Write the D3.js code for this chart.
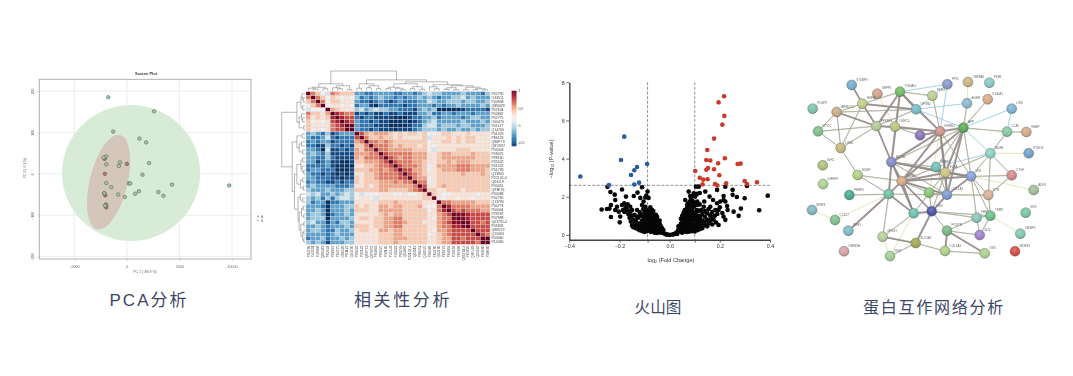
<!DOCTYPE html>
<html lang="zh"><head><meta charset="utf-8">
<script src="https://cdn.jsdelivr.net/npm/d3@7/dist/d3.min.js"></script>
<style>
html,body{margin:0;padding:0;background:#fff;overflow:hidden}
svg{display:block}
text{font-family:"Liberation Sans",Arial,sans-serif}
.soft{filter:blur(.38px)}
.caption{font-family:"Liberation Sans","Noto Sans CJK SC",sans-serif;font-weight:400;fill:#3b4668}
</style></head><body>
<svg id="c" width="1073" height="376"></svg>
<script>
// ---------- PCA ----------
const pcaGreen=[[-1770,185],[2590,151],[-1296,102],[1200,85],[1833,76],[-1960,42],[-2212,39],[-664,28],[-1960,23],[-758,19],[2117,26],[1485,-2],[-1960,-22],[-1485,-32],[190,-23],[316,-23],[-822,-50],[-190,-56],[790,-48],[1138,-42],[3002,-44],[3476,-53],[4298,-26],[9733,-28],[-2149,-47],[-1991,-75],[-2086,-77]];
const pcaRed=[[-2117,36],[0,24],[-2086,0],[-2149,-47],[-2054,-52],[-1960,-81],[-1991,-74]];
const pcaXTicks=[-5000,0,5000,10000];
const pcaYTicks=[200,100,0,-100,-200];
// ellipses: centre, semi-axes in data units, tilt in degrees
const pcaEllipseB={cx:400,cy:2,rx:6570,ry:164,tilt:0};
const pcaEllipseA={cx:-1740,cy:-20,rx:1800,ry:117,tilt:13.7};
const pcaLegend=["A","B"];

// ---------- Heat map ----------
const proteins=["P02790","O43511","P40908","Q8N4Z9","P02634","P00867","P02775","O00470","P01127","Q14760","P01023","P86123","Q86PY3","Q8Y6R7","P04003","P08475","P98160","P35542","P41222","P01769","Q13905","P22142-4","Q04119","P00451","Q93E76","P00488","P02760","Q13790","P00774","P04004","P29592","P07998","Q01791-4","P05826","Q86V29","Q15063","P04060","P10060"];
// upper triangle of the correlation matrix, in tenths, one row per protein
const corrRows=[
[10,5,3,1,0,5,4,3,3,3, -2,-2,-3,-3,-2, -2,-2,-2,-3,-3, -2,-2,-3,-2,-1, 0,-1,-1,-2,-2, -2,-2,-1,-2,-2, -2,-3,-1],
[10,5,3,1,3,2,1,2,1, -1,-3,-2,-3,-2, -1,-2,-2,-3,-2, -3,-2,-2,-1,-2, -1,-2,-3,-2,-2, -1,-1,0,-2,-1, -2,-2,-2],
[10,5,1,3,3,2,2,2, -2,-3,-3,-4,-3, -2,-3,-4,-3,-2, -3,-3,-3,-2,-2, 0,-1,-2,-2,-1, -1,-1,-2,-1,-1, -2,-2,-1],
[10,1,2,2,1,2,1, -3,-2,-2,-4,-5, -3,-3,-3,-3,-3, -4,-3,-3,-2,-2, -2,-3,-2,-3,-2, -2,-1,-2,-2,-2, -2,-1,-2],
[10,4,3,2,2,2, -1,0,-2,-1,0, -1,-1,-2,-2,-3, -3,-3,-4,-2,-1, -2,-1,-5,-5,-5, -5,-5,-4,-3,-3, -3,-3,-4],
[10,7,6,5,5, -4,-3,-4,-3,-4, -4,-3,-4,-4,-3, -4,-4,-4,-2,-2, -1,-3,-3,-2,-2, -3,-2,-2,-2,-3, -2,-2,-2],
[10,7,6,6, -3,-4,-3,-3,-4, -4,-4,-4,-5,-5, -5,-4,-3,-3,-2, -2,-1,-3,-2,-2, -2,-2,-3,-2,-1, -1,-2,-2],
[10,7,6, -2,-3,-3,-4,-3, -4,-4,-5,-5,-5, -4,-5,-4,-3,-2, -1,0,-2,-2,-2, -2,-2,-1,-2,-2, -2,-1,-2],
[10,9, -2,-3,-3,-3,-4, -4,-4,-5,-5,-5, -5,-4,-3,-3,-1, 0,0,-2,-1,-1, -1,-2,-1,-1,-2, -2,-2,-1],
[10, -2,-3,-3,-4,-3, -4,-4,-4,-5,-4, -4,-4,-3,-2,-1, -1,-1,-2,-1,-2, -2,-1,-2,-2,-1, -2,-1,-1],
[10,6,4,3,4, 4,4,3,2,3, 2,3,3,2,3, 1,1,2,3,3, 2,2,2,3,2, 2,2,2],
[10,5,3,3, 4,3,3,2,3, 2,2,2,2,3, 0,2,2,2,3, 2,3,2,3,3, 2,2,2],
[10,5,5, 4,5,4,3,3, 3,3,3,3,3, 1,2,2,3,3, 2,3,2,3,3, 2,2,2],
[10,5, 5,5,4,3,4, 3,3,3,2,3, 1,1,2,2,2, 2,2,2,2,2, 2,2,2],
[10, 5,5,4,4,4, 4,4,3,3,3, 1,0,2,2,2, 2,3,3,3,2, 2,2,2],
[10,6,5,5,5, 5,5,4,4,4, 2,2,3,4,4, 3,3,3,3,4, 3,3,3],
[10,6,5,4, 5,5,4,4,4, 2,2,3,4,4, 4,4,4,4,4, 3,3,3],
[10,6,5, 5,5,4,4,3, 2,2,3,3,4, 3,4,4,4,3, 3,3,3],
[10,6, 5,5,5,4,3, 1,2,4,4,4, 4,5,5,5,4, 4,4,4],
[10, 6,6,4,4,3, 1,2,3,4,4, 4,5,5,5,4, 4,4,3],
[10,6,5,4,3, 2,2,3,3,3, 3,3,4,3,3, 3,4,3],
[10,5,4,4, 1,2,3,3,3, 3,3,3,3,3, 3,3,3],
[10,5,5, 1,2,3,3,3, 3,3,3,3,3, 3,3,3],
[10,6, 2,2,3,4,3, 3,3,3,3,3, 3,3,3],
[10, 3,3,2,2,3, 3,3,2,3,3, 3,3,3],
[10,3,2,1,1, 2,2,2,2,2, 1,2,2],
[10,2,1,2, 2,1,2,2,1, 2,2,2],
[10,5,5, 4,4,4,4,4, 3,3,3],
[10,7, 5,5,5,5,4, 4,4,4],
[10, 6,5,6,5,5, 5,4,4],
[10,8,8,7,6, 6,6,6],
[10,8,7,6, 6,6,6],
[10,8,6, 6,5,6],
[10,6, 6,6,6],
[10, 6,6,6],
[10,6,5],
[10,9],
[10]];
const colorbarTicks=[1,0.5,0,-0.5];
// dendrogram: [merge height, left, right], leaves are protein indexes
const dendro=[20,
 [7,[3.5,[2.5,0,[1.5,1,2]],[2,3,4]],[5,[3,5,[2,6,7]],[1,8,9]]],
 [11,[7,[2.5,10,11],[5,[3,12,13],[2,14,15]]],
  [9,[7,[3.5,[2,16,17],[2.5,18,[1,19,20]]],[4,[2,21,22],[1.5,23,24]]],
   [6,[4,25,[2,26,27]],[5,[3,[1.5,28,29],[1,30,31]],[3.5,[1,32,33],[2,[1,34,35],[1,36,37]]]]]]]];

// ---------- Volcano ----------
const volcanoBlack=[[-.248,2.52],[-.271,1.33],[-.25,1.36],[-.24,1.38],[-.234,1.57],[-.217,1.83],[-.236,2.25],[-.219,2.11],[-.19,2.38],[-.174,2.01],[-.234,.94],[-.197,.96],[-.199,.66],[-.11,2.5],[-.128,2.22],[-.088,2.27],[-.093,2.06],[-.143,2.04],[-.117,1.94],[-.097,1.96],[-.084,1.94],[-.104,1.75],[-.11,1.57],[-.181,1.66],[-.19,1.57],[-.167,1.61],[-.21,1.48],[-.217,1.31],[-.203,1.22],[-.157,1.48],[-.15,1.31],[-.13,1.31],[-.097,1.48],[-.077,1.45],[-.07,1.31],
[-.186,1.3],[-.175,1.45],[-.16,1.15],[-.14,1.05],[-.12,1.2],[-.11,1.0],[-.105,1.35],[-.095,1.15],[-.085,1.25],[-.165,1.1],[-.18,1.2],
[-.16,.9],[-.155,.7],[-.15,.5],[-.145,.8],[-.14,.55],[-.135,.75],[-.13,.4],[-.125,.9],[-.12,.6],[-.115,.35],[-.11,.75],[-.105,.5],[-.1,.9],[-.1,.3],[-.095,.6],[-.09,.8],[-.09,.4],[-.085,1.0],[-.085,.55],[-.08,.25],[-.08,.75],[-.08,1.1],[-.075,.45],[-.075,.95],[-.07,.6],[-.07,.2],[-.07,.8],[-.065,1.05],[-.065,.35],[-.06,.55],[-.06,.75],[-.06,.95],[-.055,.2],[-.055,.45],[-.05,.65],[-.05,.8],[-.045,.15],[-.045,.35],[-.045,.55],[-.04,.25],[-.04,.45],[-.035,.12],[-.035,.3],[-.03,.2],[-.025,.1],[-.02,.06],[-.015,.03],[-.01,.02],[-.005,.01],[0,0],
[-.15,1.0],[-.13,.6],[-.125,.3],[-.12,1.0],[-.11,.5],[-.105,.7],[-.1,.55],[-.095,.35],[-.09,1.0],[-.085,.75],[-.08,.5],[-.075,.7],[-.07,.45],[-.07,.95],[-.065,.6],[-.065,.8],[-.06,.35],[-.055,.65],[-.055,.85],[-.05,.25],[-.05,.5],[-.04,.6],[-.035,.45],
[-.145,.4],[-.135,.35],[-.12,.25],[-.11,.2],[-.1,.15],[-.09,.2],[-.075,.15],[-.06,.12],[-.05,.1],[-.13,.95],[-.115,1.1],[-.1,1.2],[-.09,1.3],[-.075,1.15],[-.065,1.25],[-.055,1.05],[-.05,.95],[-.04,.75],[-.03,.35],[-.025,.25],[-.14,.7],[-.125,.5],[-.115,.6],[-.105,.95],[-.095,.45],[-.085,.35],[-.08,.95],[-.07,.3],[-.058,.62],[-.048,.7],[-.155,1.25],[-.17,1.3],
[.391,2.06],[.357,1.29],[.308,2.57],[.299,1.92],[.275,1.0],[.284,1.38],[.268,1.99],[.251,2.36],[.251,2.1],[.229,1.52],[.231,1.31],[.255,1.22],[.215,2.04],[.222,2.53],[.189,2.36],[.142,2.27],[.159,2.01],[.173,1.83],[.138,1.75],[.082,2.04],[.062,1.83],[.105,2.53],[.116,2.53],[.096,2.18],[.102,2.01],[.076,2.27],[.109,2.15],[.189,1.66],[.202,1.75],[.215,1.83],[.222,1.75],[.162,1.48],[.195,1.31],[.215,.96],[.222,.79],[.195,.52],[.169,.96],[.182,1.31],[.136,1.48],[.149,1.14],[.122,.96],[.109,1.31],[.096,1.14],[.109,1.57],[.076,1.66],
[.09,1.8],[.085,1.55],[.1,1.7],[.095,1.45],[.08,1.35],[.07,1.45],[.065,1.25],[.06,1.1],[.105,1.2],[.115,1.0],[.125,1.3],[.13,.75],[.14,.95],[.15,.8],[.16,1.05],[.17,1.2],[.175,.8],[.18,1.0],[.19,1.1],[.2,1.45],[.21,1.15],[.14,1.25],[.155,1.35],
[.02,.06],[.03,.15],[.035,.3],[.04,.25],[.04,.45],[.045,.15],[.045,.6],[.05,.3],[.05,.5],[.05,.75],[.055,.2],[.055,.9],[.06,.4],[.06,.6],[.06,.8],[.065,.25],[.065,1.0],[.07,.5],[.07,.7],[.07,.9],[.075,.3],[.075,.6],[.08,.45],[.08,.8],[.08,1.05],[.085,.25],[.085,.65],[.09,.4],[.09,.95],[.095,.55],[.095,.75],[.1,.3],[.1,1.0],[.105,.5],[.105,.8],[.11,.4],[.11,.65],[.115,.75],[.12,.55],[.125,.45],[.13,.35],[.135,.6],[.14,.5],[.15,.45],[.16,.7],[.17,.55],[.01,.02],[.015,.03],[.025,.1],[.03,.05],[.035,.45],[.045,.4],[.055,.55],[.065,.45],[.075,.85],[.085,1.15],[.09,1.25],[.095,.85],
[.05,.12],[.06,.18],[.07,.15],[.08,.18],[.09,.2],[.1,.18],[.11,.25],[.12,.3],[.045,.85],[.05,1.0],[.055,1.15],[.06,1.3],[.07,1.2],[.075,1.1],[.08,1.2],[.09,1.1],[.1,1.15],[.11,.95],[.115,1.25],[.12,.85],[.125,.7],[.13,1.1],[.14,.7],[.07,1.6],[.08,1.75],[.09,1.6],[.1,1.55],[.11,1.75],[.12,1.6],[.085,1.9],[.095,2.05],[.12,2.2],[.155,.6],[.165,.85],[.185,.65]];
const volcanoBlue=[[-.356,3.06],[-.242,2.62],[-.181,5.15],[-.194,3.93],[-.154,3.14],[-.141,3.39],[-.13,3.56],[-.09,3.72],[-.141,2.64],[-.122,2.74]];
const volcanoRed=[[.217,7.27],[.195,6.95],[.218,6.24],[.21,5.78],[.177,5.05],[.15,4.45],[.22,4.02],[.146,3.93],[.162,3.9],[.193,3.76],[.271,3.72],[.283,3.74],[.102,3.35],[.146,3.42],[.153,3.51],[.177,3.44],[.198,3.13],[.12,3.0],[.134,2.9],[.151,2.92],[.131,2.65],[.181,2.67],[.19,2.59],[.225,2.71],[.299,2.83],[.308,2.67],[.348,2.76]];
const volcanoXTicks=[-.4,-.2,0,.2,.4];
const volcanoYTicks=[0,2,4,6,8];
const volcanoFcCut=[-.088,.1];
const volcanoPCut=2.6;

// ---------- Protein network (layout units) ----------
const netNames=["STXBP3","PCBP2","SEPP1","HSPA5","ARRDC4","MYOC","LUM2","PFKFB3","LRRC4","YWHAG","PKM1","GPSN2","PPIC","OBFBA1","PIGR","AGER","S100A1","LUM","N360","FMHN1","APP","LCAT","VMBP","BLMH","PTGDS","IDH2","IGFBP6","EDBP","ACTN1","SPARC","FLNA","VIM","CTGF","TGFBI","PEBP4","N372","N368","COL1A2","DTN","ADFX","BNIP3","CCL27","DDR1","G341","GSN","FBN1","TIMP1","SNS","IGFBP2","POSTN","GLN","GPS41","SLC3A2","NTM","GRIN3A","COL5A1","OSN","WDR81"];
const netX=[155,38,232,187,110,54,122,229,285,300,397,348,442,504,568,501,563,635,360,420,490,621,679,571,686,68,69,173,274,408,436,513,635,305,148,266,387,441,565,701,36,105,145,341,395,530,571,677,661,441,539,248,347,270,132,435,554,645];
const netY=[45,116,71,101,126,184,234,168,170,65,77,118,43,36,38,100,88,116,196,184,173,185,186,250,250,286,342,315,276,291,308,319,316,333,375,372,368,374,375,360,420,450,482,430,424,443,437,428,491,482,495,500,519,558,544,543,550,544];
const netColors=["#6fa8c8","#78bfa6","#cf9d84","#bcc97e","#c5a681","#78bc82","#bfb274","#acc68e","#bbc279","#6eb35e","#b9ca8a","#72b7c3","#8292c9","#c7b07b","#82c3c2","#82b3cb","#d3a682","#79acd0","#826bb3","#c88d83","#52a54e","#82c39b","#d3a383","#82cfbf","#6b9bc3","#acbc72","#abcf8b","#accb7d","#7d83c3","#6bbbb3","#cbbf7b","#7f9bd3","#d38383","#d3a383","#43a38d","#6bbb9b","#82c36d","#7393cb","#d3ab93","#9bbb8d","#7bb3bb","#7bbb8b","#7bb7c3","#63bbab","#434ba3","#83c3b3","#63bb83","#73c39b","#7bc3ab","#73b37b","#9b7bcb","#b3cb93","#9ba34b","#9bcb8b","#d39b9b","#abcb83","#abcb8b","#d3433b"];
const netStrong="YWHAG-PFKFB3 YWHAG-ACTN1 YWHAG-FMHN1 YWHAG-GPSN2 PFKFB3-ACTN1 PFKFB3-HSPA5 PFKFB3-ARRDC4 PFKFB3-LRRC4 HSPA5-STXBP3 HSPA5-GPSN2 FMHN1-ACTN1 FMHN1-TGFBI FMHN1-FLNA FMHN1-COL1A2 APP-FMHN1 APP-TGFBI APP-FLNA APP-COL1A2 ACTN1-TGFBI ACTN1-FLNA ACTN1-N372 ACTN1-G341 ACTN1-VIM TGFBI-FLNA TGFBI-COL1A2 TGFBI-N372 TGFBI-G341 TGFBI-GSN TGFBI-VIM FLNA-VIM FLNA-COL1A2 VIM-COL1A2 G341-GSN GSN-COL1A2 N372-G341 N372-DDR1 GPS41-SLC3A2 SLC3A2-GSN POSTN-COL5A1 POSTN-OSN LRRC4-FMHN1 N360-FMHN1".split(" ");
const netMedium="YWHAG-PKM1 YWHAG-LRRC4 YWHAG-HSPA5 GPSN2-FMHN1 GPSN2-PFKFB3 GPSN2-ARRDC4 PKM1-FMHN1 APP-ACTN1 APP-SPARC APP-VIM S100A1-APP AGER-APP APP-LCAT FMHN1-VIM FMHN1-PFKFB3 LCAT-BLMH LCAT-VMBP BLMH-VIM BLMH-FLNA BLMH-DTN BLMH-CTGF VIM-CTGF VIM-DTN VIM-FBN1 VIM-TIMP1 VIM-TGFBI CTGF-DTN DTN-TIMP1 DTN-COL1A2 TIMP1-FBN1 TIMP1-GLN FBN1-GLN FBN1-POSTN FBN1-GSN TIMP1-GSN POSTN-GLN COL5A1-OSN POSTN-GSN SLC3A2-NTM SLC3A2-COL5A1 GPS41-G341 GPS41-N372 GSN-N368 GSN-FLNA N372-EDBP N372-COL1A2 N372-PEBP4 TGFBI-EDBP TGFBI-SPARC TGFBI-N368 ACTN1-LRRC4 ACTN1-SPARC ACTN1-COL1A2 PFKFB3-MYOC PFKFB3-LUM2 HSPA5-ARRDC4 HSPA5-LUM2 ARRDC4-MYOC ARRDC4-LUM2 MYOC-LUM2 LUM2-EDBP LRRC4-N360 G341-N368 SPARC-COL1A2 SPARC-FLNA N368-COL1A2 N368-FLNA".split(" ");
const netPale="OBFBA1-AGER BLMH-PTGDS VIM-ADFX TIMP1-IGFBP2 GPS41-NTM BNIP3-CCL27 N372-CCL27 SEPP1-LRRC4 COL1A2-DTN FMHN1-N368 G341-NTM".split(" ");
const netBlue="YWHAG-PPIC GPSN2-PPIC GPSN2-APP PPIC-FMHN1 LUM-APP LCAT-LUM BLMH-APP AGER-GPSN2 BLMH-SPARC".split(" ");

const captions=[{t:"PCA分析",cx:149,y:306,fs:17,ls:2},{t:"相关性分析",cx:403,y:306,fs:17,ls:2.6},{t:"火山图",cx:658,y:312.5,fs:15.6,ls:0},{t:"蛋白互作网络分析",cx:934,y:312.5,fs:16,ls:1.75}];

const svg=d3.select("#c");

// ==== PCA panel ====
(function(){
  const g=svg.append("g").attr("class","soft");
  const x=d3.scaleLinear().domain([-5000,10000]).range([74.3,232]);
  const y=d3.scaleLinear().domain([200,-200]).range([91,256.7]);
  const L=39.3,R=251,T=79.3,B=259;
  g.append("rect").attr("x",L).attr("y",T).attr("width",R-L).attr("height",B-T).attr("fill","#fff");
  g.append("g").selectAll("line").data(pcaXTicks).join("line").attr("x1",d=>x(d)).attr("x2",d=>x(d)).attr("y1",T).attr("y2",B).attr("stroke","#e9e9e9").attr("stroke-width",.8);
  g.append("g").selectAll("line").data(pcaYTicks).join("line").attr("y1",d=>y(d)).attr("y2",d=>y(d)).attr("x1",L).attr("x2",R).attr("stroke","#e9e9e9").attr("stroke-width",.8);
  const ell=(e,fill)=>g.append("ellipse")
    .attr("rx",x(e.rx)-x(0)).attr("ry",y(0)-y(e.ry)).attr("fill",fill)
    .attr("transform",`translate(${x(e.cx)},${y(e.cy)}) rotate(${e.tilt})`);
  ell(pcaEllipseB,"#d8ebd6");
  ell(pcaEllipseA,"#d4c6ba");
  const dots=(data,fill)=>g.append("g").selectAll("circle").data(data).join("circle")
    .attr("cx",d=>x(d[0])).attr("cy",d=>y(d[1])).attr("r",1.8).attr("fill",fill).attr("stroke","#4a584a").attr("stroke-width",.5);
  dots(pcaRed,"#c46a78");
  dots(pcaGreen,"#a2c4a0");
  g.append("rect").attr("x",L).attr("y",T).attr("width",R-L).attr("height",B-T).attr("fill","none").attr("stroke","#a9a9a9").attr("stroke-width",.9);
  const ax=d3.axisBottom(x).tickValues(pcaXTicks).tickSize(1.5).tickPadding(1.5);
  const gx=g.append("g").attr("transform",`translate(0,${B})`).call(ax);
  gx.select(".domain").remove();
  gx.selectAll("text").attr("font-size",3.6).attr("fill","#666").attr("dy","1.6em").text(d=>d);
  gx.selectAll("line").attr("stroke","#888").attr("stroke-width",.4);
  const ay=d3.axisLeft(y).tickValues(pcaYTicks).tickSize(1.5);
  const gy=g.append("g").attr("transform",`translate(${L},0)`).call(ay);
  gy.select(".domain").remove();
  gy.selectAll("line").attr("stroke","#888").attr("stroke-width",.4);
  gy.selectAll("text").attr("font-size",3.4).attr("fill","#666").attr("x",null).attr("dy",null).attr("text-anchor","middle")
    .attr("transform","translate(-5,0) rotate(-90)");
  g.append("text").attr("x",146).attr("y",75).attr("text-anchor","middle").attr("font-size",4).attr("font-weight","bold").attr("fill","#333").text("Scores Plot");
  g.append("text").attr("x",145).attr("y",273).attr("text-anchor","middle").attr("font-size",3.6).attr("fill","#666").text("PC 1 ( 88.9 %)");
  g.append("text").attr("transform","translate(26,168) rotate(-90)").attr("text-anchor","middle").attr("font-size",3.4).attr("fill","#666").text("PC 2 ( 6.1 %)");
  pcaLegend.forEach((t,i)=>{
    g.append("circle").attr("cx",258).attr("cy",216.5+i*4).attr("r",.9).attr("fill",i?"#a2c4a0":"#c98a94");
    g.append("text").attr("x",261).attr("y",217.8+i*4).attr("font-size",3.4).attr("fill","#666").text(t);
  });
})();

// ==== Heat map panel ====
(function(){
  const g=svg.append("g").attr("class","soft");
  const n=proteins.length;
  const x=d3.scaleBand().domain(d3.range(n)).range([306,490]);
  const y=d3.scaleBand().domain(d3.range(n)).range([91.7,244.3]);
  // cell colouring: RdBu position for each correlation, white near 0.1
  const t=d3.scaleLinear().domain([-.45,.1,.85]).range([1,.5,0]).clamp(true);
  const color=v=>d3.interpolateRdBu(t(v));
  const cbT=d3.scaleLinear().domain([-.6,1]).range([1,0]);
  const cells=[];
  corrRows.forEach((row,i)=>row.forEach((v,k)=>{
    const j=i+k;
    cells.push({r:i,c:j,v:v/10});
    if(j!==i)cells.push({r:j,c:i,v:v/10});
  }));
  g.append("g").selectAll("rect").data(cells).join("rect")
    .attr("x",d=>x(d.c)).attr("y",d=>y(d.r)).attr("width",x.bandwidth()).attr("height",y.bandwidth())
    .attr("fill",d=>d.v===1?"#67001f":color(d.v)).attr("stroke","#dcdcdc").attr("stroke-width",.35);
  g.append("g").selectAll("text").data(proteins).join("text")
    .attr("x",491.5).attr("y",(d,i)=>y(i)+y.bandwidth()/2+1.2).attr("font-size",3.5).attr("fill","#444").text(d=>d);
  g.append("g").selectAll("text").data(proteins).join("text")
    .attr("text-anchor","end").attr("font-size",3.4).attr("fill","#555")
    .attr("transform",(d,i)=>`translate(${x(i)+x.bandwidth()/2+1.2},245.5) rotate(-90)`).text(d=>d);
  // dendrograms
  const topH=d3.scaleLinear().domain([0,20]).range([90.7,71]);
  const leftH=d3.scaleLinear().domain([0,20]).range([305,281.7]);
  const segs=[];
  const walk=(node,mid,push)=>{
    if(typeof node==="number")return {p:mid(node),h:0};
    const a=walk(node[1],mid,push),b=walk(node[2],mid,push);
    push(a,b,node[0]);
    return {p:(a.p+b.p)/2,h:node[0]};
  };
  walk(dendro,i=>x(i)+x.bandwidth()/2,(a,b,h)=>segs.push(`M${a.p},${topH(a.h)}V${topH(h)}H${b.p}V${topH(b.h)}`));
  walk(dendro,i=>y(i)+y.bandwidth()/2,(a,b,h)=>segs.push(`M${leftH(a.h)},${a.p}H${leftH(h)}V${b.p}H${leftH(b.h)}`));
  g.append("path").attr("d",segs.join("")).attr("fill","none").attr("stroke","#5f5f5f").attr("stroke-width",.45);
  // colour bar
  const cb=d3.scaleLinear().domain([1,-.6]).range([90.7,146]);
  const bar=d3.range(1,-.6,-.02);
  g.append("g").selectAll("rect").data(bar).join("rect")
    .attr("x",511.7).attr("width",4.7).attr("y",d=>cb(d)).attr("height",d=>cb(d-.02)-cb(d)+.3).attr("fill",d=>d3.interpolateRdBu(cbT(d)));
  const gc=g.append("g").attr("transform","translate(516.4,0)").call(d3.axisRight(cb).tickValues(colorbarTicks).tickSize(1).tickPadding(1).tickFormat(d=>d));
  gc.select(".domain").remove();
  gc.selectAll("line").attr("stroke","#888").attr("stroke-width",.3);
  gc.selectAll("text").attr("font-size",3.5).attr("fill","#444");
})();

// ==== Volcano panel ====
(function(){
  const g=svg.append("g").attr("class","soft");
  const x=d3.scaleLinear().domain([-.4,.4]).range([569.3,770]);
  const y=d3.scaleLinear().domain([-.25,8]).range([239.7,82.3]);
  const dash=s=>s.attr("stroke","#6f6f6f").attr("stroke-width",.75).attr("stroke-dasharray","3 1.6");
  dash(g.append("g").selectAll("line").data(volcanoFcCut).join("line").attr("x1",d=>x(d)).attr("x2",d=>x(d)).attr("y1",y(8)).attr("y2",y(-.25)));
  dash(g.append("line").attr("x1",x(-.4)).attr("x2",x(.4)).attr("y1",y(volcanoPCut)).attr("y2",y(volcanoPCut)));
  const dots=(data,fill)=>g.append("g").selectAll("circle").data(data).join("circle")
    .attr("cx",d=>x(d[0])).attr("cy",d=>y(d[1])).attr("r",2.3).attr("fill",fill);
  dots(volcanoBlack,"#060606");
  dots(volcanoBlue,"#2a5c9f");
  dots(volcanoRed,"#c93a2c");
  const gx=g.append("g").attr("transform",`translate(0,${y(-.25)})`)
    .call(d3.axisBottom(x).tickValues(volcanoXTicks.concat(volcanoFcCut)).tickSize(3).tickPadding(1.5).tickSizeOuter(0)
      .tickFormat(d=>volcanoXTicks.includes(d)?d3.format(".1f")(d):""));
  const gy=g.append("g").attr("transform",`translate(${x(-.4)},0)`)
    .call(d3.axisLeft(y).tickValues(volcanoYTicks).tickSize(3).tickPadding(1.5).tickSizeOuter(0));
  [gx,gy].forEach(a=>{
    a.select(".domain").attr("stroke","#444").attr("stroke-width",1.4);
    a.selectAll("line").attr("stroke","#444").attr("stroke-width",.8);
    a.selectAll("text").attr("font-size",5.3).attr("fill","#333");
  });
  const xl=g.append("text").attr("x",671).attr("y",262).attr("text-anchor","middle").attr("font-size",5.6).attr("fill","#333");
  xl.append("tspan").text("log");
  xl.append("tspan").attr("font-size",3.6).attr("dy",1.3).text("2");
  xl.append("tspan").attr("dy",-1.3).text(" (Fold Change)");
  const yl=g.append("text").attr("transform","translate(553,159) rotate(-90)").attr("text-anchor","middle").attr("font-size",5.6).attr("fill","#333");
  yl.append("tspan").text("−log");
  yl.append("tspan").attr("font-size",3.6).attr("dy",1.3).text("10");
  yl.append("tspan").attr("dy",-1.3).text(" (P-value)");
})();

// ==== Network panel ====
(function(){
  const g=svg.append("g").attr("class","soft");
  const defs=svg.append("defs");
  const rg=defs.append("radialGradient").attr("id","shine").attr("cx","45%").attr("cy","35%").attr("r","65%");
  rg.append("stop").attr("offset","0").attr("stop-color","#fff").attr("stop-opacity",.28);
  rg.append("stop").attr("offset",".6").attr("stop-color","#fff").attr("stop-opacity",.05);
  rg.append("stop").attr("offset","1").attr("stop-color","#000").attr("stop-opacity",.22);
  const x=d3.scaleLinear().domain([0,780]).range([800,1060]);
  const y=d3.scaleLinear().domain([0,600]).range([70,270]);
  const pos={};
  netNames.forEach((d,i)=>pos[d]={x:x(netX[i]),y:y(netY[i])});
  const edge=(list,stroke,w,off)=>g.append("g").selectAll("line").data(list).join("line")
    .attr("x1",d=>pos[d.split("-")[0]].x+off).attr("y1",d=>pos[d.split("-")[0]].y+off)
    .attr("x2",d=>pos[d.split("-")[1]].x+off).attr("y2",d=>pos[d.split("-")[1]].y+off)
    .attr("stroke",stroke).attr("stroke-width",w);
  edge(netPale,"#d8dd9a",.7,0);
  edge(netBlue,"#8ec6dc",.8,0);
  edge(netMedium,"#bdb8a8",1,0);
  edge(netMedium,"#93a58a",.4,.4);
  edge(netStrong,"#a8949c",1.7,0);
  edge(netStrong,"#7f8a78",.6,.6);
  const nodes=g.append("g").selectAll("g").data(netNames).join("g")
    .attr("transform",d=>`translate(${pos[d].x},${pos[d].y})`);
  nodes.append("circle").attr("r",5).attr("fill",(d,i)=>netColors[i]).attr("stroke","#62736a").attr("stroke-width",.4);
  nodes.append("circle").attr("r",5).attr("fill","url(#shine)");
  nodes.append("text").attr("x",4.6).attr("y",-4.4).attr("font-size",3).attr("fill","#666").text(d=>/^N\d|^G341$/.test(d)?"":d);
})();

// ==== Captions ====
svg.append("g").selectAll("text").data(captions).join("text").attr("class","caption")
  .attr("x",d=>d.cx).attr("y",d=>d.y).attr("text-anchor","middle")
  .attr("font-size",d=>d.fs).attr("letter-spacing",d=>d.ls).text(d=>d.t);
</script>
</body></html>
